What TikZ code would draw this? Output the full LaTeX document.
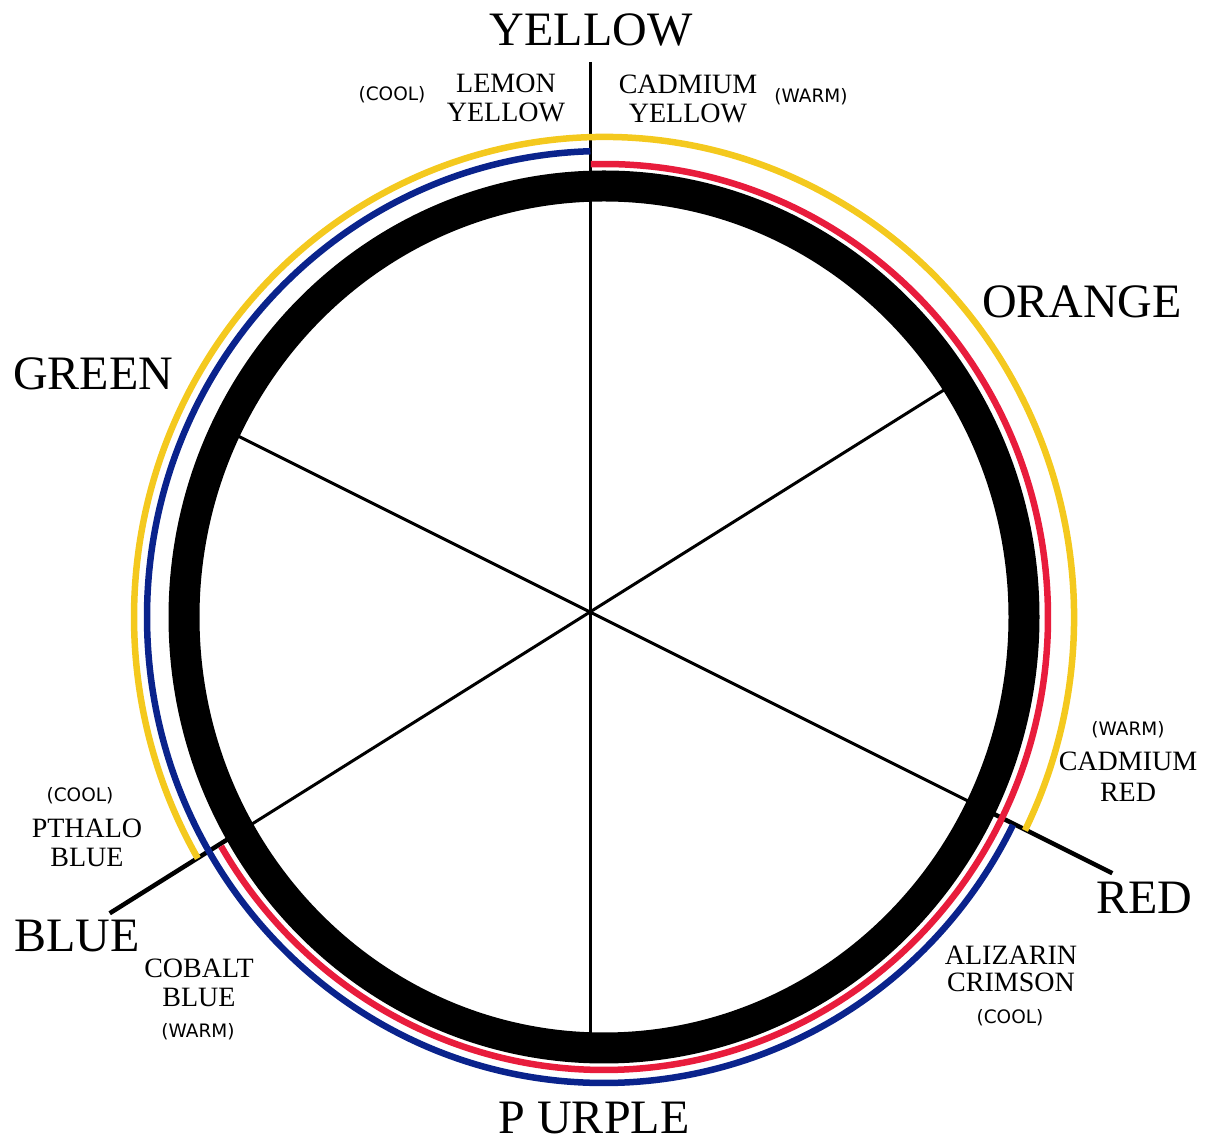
\documentclass[tikz,border=0pt]{standalone}
\usepackage{fontspec}
\setmainfont{Liberation Serif}
\newfontfamily\tagfont{DejaVu Sans}
\definecolor{wyel}{HTML}{F4C91E}
\definecolor{wblue}{HTML}{0A238C}
\definecolor{wred}{HTML}{E81C3C}
\begin{document}
\begin{tikzpicture}[x=1pt,y=1pt,
  big/.style={font=\fontsize{48}{52}\selectfont, inner sep=0pt},
  paint/.style={font=\fontsize{28}{29}\selectfont, align=center, inner sep=0pt},
  tag/.style={font=\tagfont\fontsize{18.5}{20}\selectfont, inner sep=0pt},
  spoke/.style={line width=3pt},
  ext/.style={line width=4.5pt},
  ring/.style={line width=31pt},
  band/.style={line width=6.5pt}]
\useasboundingbox (0,0) rectangle (1205,1143);
\coordinate (O) at (590,531);
\coordinate (C) at (604,526);
% spokes
\path (O) ++(0,550) coordinate (top);
\path (O) ++(0,-433) coordinate (bot);
\path (O) ++(32.1:432) coordinate (ur);
\path (O) ++(212.1:415) coordinate (ll);
\path (O) ++(153.43:412) coordinate (ul);
\path (O) ++(-26.57:440) coordinate (lr);
\path (O) ++(-26.57:425) coordinate (redin);
\path (O) ++(-26.57:584) coordinate (redout);
\path (O) ++(212.1:405) coordinate (bluein);
\path (O) ++(212.1:567) coordinate (blueout);
\draw[spoke] (top) -- (bot);
\draw[spoke] (ur) -- (ll);
\draw[spoke] (ul) -- (lr);
\draw[ext] (redin) -- (redout);
\draw[ext] (bluein) -- (blueout);
% black ring
\draw[ring] (C) ellipse [x radius=420pt, y radius=431pt];
% colour bands
\draw[band, wyel] (C) ++(-26.4:470pt and 480pt)
  arc[start angle=-26.4, end angle=210.2, x radius=470pt, y radius=480pt];
\draw[band, wblue] (C) ++(91.7:457pt and 466pt)
  arc[start angle=91.7, end angle=333.5, x radius=457pt, y radius=466pt];
\draw[band, wred] (C) ++(91.7:444pt and 453pt)
  arc[start angle=91.7, end angle=-149.6, x radius=444pt, y radius=453pt];
% big labels
\node[big] (nyellow) at (591,1113) {YELLOW};
\node[big] (ngreen) at (93,769) {GREEN};
\node[big] (norange) at (1082,841) {ORANGE};
\node[big] (nblue) at (77,207) {BLUE};
\node[big] (nred) at (1144,245) {RED};
\node[big] (npurple) at (594,25) {P URPLE};
% paint names
\node[paint] (lemon) at (506,1045.5) {LEMON\\YELLOW};
\node[paint] (cadyel) at (688,1044) {CADMIUM\\YELLOW};
\node[paint] (pthalo) at (87,300.5) {PTHALO\\BLUE};
\node[paint] (cobalt) at (199,160.5) {COBALT\\BLUE};
\node[paint, font=\fontsize{28}{31}\selectfont] (cadred) at (1128,366.5) {CADMIUM\\RED};
\node[paint, font=\fontsize{28}{27}\selectfont] (alizarin) at (1011,174) {ALIZARIN\\CRIMSON};
% temperature tags
\node[tag] (t1) at (392,1048) {(COOL)};
\node[tag] (t2) at (811,1046) {(WARM)};
\node[tag] (t3) at (80,347) {(COOL)};
\node[tag] (t4) at (198,111.5) {(WARM)};
\node[tag] (t5) at (1128,413) {(WARM)};
\node[tag] (t6) at (1010,125.5) {(COOL)};
\end{tikzpicture}
\end{document}
